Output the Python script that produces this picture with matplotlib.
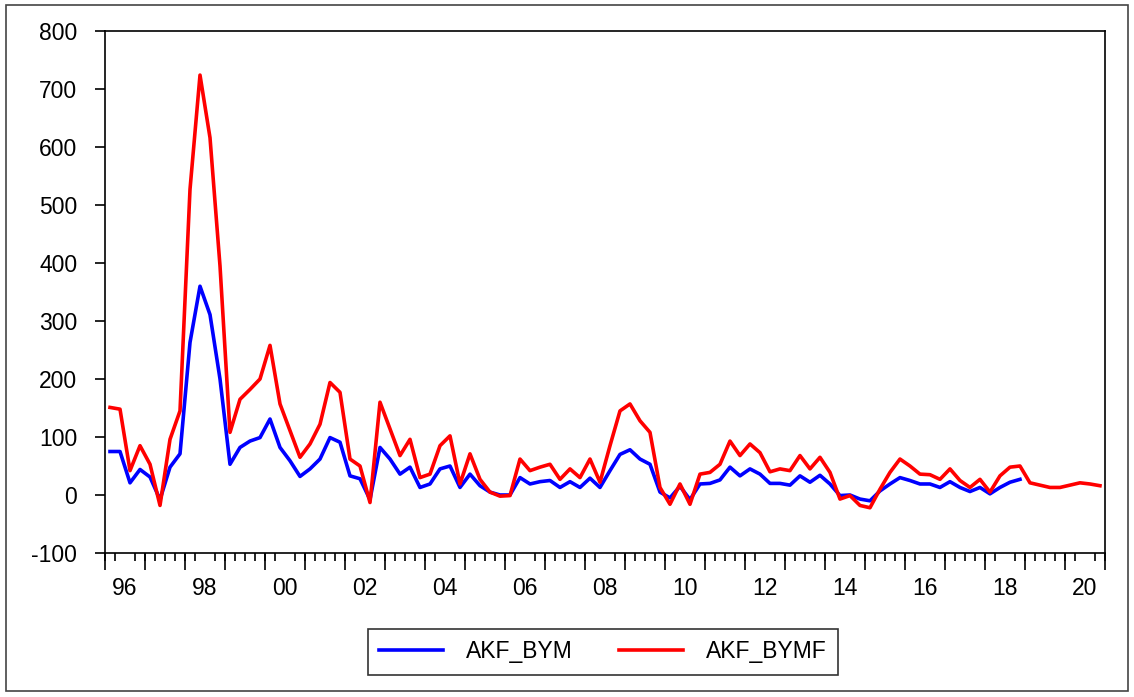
import numpy as np
import matplotlib
matplotlib.use('Agg')
import matplotlib.pyplot as plt
from matplotlib.patches import Rectangle

plt.rcParams['font.family'] = ['Liberation Sans', 'DejaVu Sans']
plt.rcParams['axes.unicode_minus'] = False

# quarterly data, 1996Q1 - 2020Q4
start_year = 1996
akf_bymf = [151, 148, 42, 85, 53, -18, 96, 145, 527, 724,
            616, 395, 108, 165, 182, 200, 258, 157, 111, 65,
            88, 122, 194, 177, 62, 50, -13, 160, 114, 68,
            96, 30, 36, 85, 102, 19, 71, 27, 5, -2,
            -1, 62, 42, 48, 53, 27, 45, 30, 62, 22,
            85, 145, 157, 128, 108, 13, -16, 19, -16, 36,
            39, 53, 93, 68, 88, 73, 40, 45, 42, 68,
            45, 65, 39, -7, -1, -18, -22, 10, 39, 62,
            50, 36, 35, 27, 45, 25, 13, 27, 5, 33,
            48, 50, 21, 17, 13, 13, 17, 21, 19, 16]
akf_bym = [75, 75, 21, 44, 31, -8, 48, 71, 263, 360,
           311, 200, 53, 82, 93, 99, 131, 82, 59, 32,
           45, 62, 99, 91, 33, 28, -8, 82, 62, 36,
           48, 13, 19, 45, 50, 13, 36, 16, 5, 0,
           0, 30, 19, 23, 25, 13, 23, 13, 29, 13,
           42, 70, 78, 62, 53, 5, -5, 15, -8, 19,
           20, 26, 48, 33, 45, 36, 20, 20, 17, 33,
           22, 34, 19, -1, 0, -7, -10, 7, 19, 30,
           25, 19, 19, 13, 23, 13, 6, 13, 2, 13,
           22, 27]
year_labels = ['96', '98', '00', '02', '04', '06', '08', '10', '12',
               '14', '16', '18', '20']

t_red = start_year + (np.arange(len(akf_bymf)) + 0.5) / 4
t_blue = start_year + (np.arange(len(akf_bym)) + 0.5) / 4

fig = plt.figure(figsize=(11.34, 6.97), dpi=100)
ax = fig.add_axes([0.0926, 0.2066, 0.8818, 0.7489])

ax.plot(t_blue, akf_bym, color='#0000ff', lw=2.6, label='AKF_BYM')
ax.plot(t_red, akf_bymf, color='#ff0000', lw=2.6, label='AKF_BYMF')

fs = 16.5
ax.set_xlim(1996, 2021)
ax.set_ylim(-100, 800)
ax.set_yticks(np.arange(-100, 801, 100))
ax.tick_params(axis='y', direction='out', length=7, width=1.2, labelsize=fs, pad=13)

# labels centred on years, every second year
ax.set_xticks(np.arange(1996, 2021, 2) + 0.5)
ax.set_xticklabels(year_labels)
ax.tick_params(axis='x', which='major', length=0, labelsize=fs, pad=17)
ax.set_xticks(np.arange(1996, 2021.01, 0.25), minor=True)
ax.tick_params(axis='x', which='minor', direction='out', length=6, width=1.2)

sec = ax.secondary_xaxis('bottom')
sec.set_xticks(np.arange(1996, 2022, 1))
sec.set_xticklabels([])
sec.tick_params(direction='out', length=12, width=1.2)
sec.spines['bottom'].set_visible(False)

for s in ax.spines.values():
    s.set_linewidth(1.2)

leg = fig.legend(loc='upper center', bbox_to_anchor=(0.5317, 0.0976), ncol=2,
                 fontsize=fs, frameon=True, fancybox=False, handlelength=2.8,
                 columnspacing=2.0, borderpad=0.5, handletextpad=1.0,
                 borderaxespad=0)
leg.get_frame().set_edgecolor('black')
leg.get_frame().set_linewidth(1.2)

fig.patches.append(Rectangle((0.005, 0.008), 0.99, 0.985, transform=fig.transFigure,
                             fill=False, edgecolor='#444444', linewidth=1.2))

fig.savefig('out.png', dpi=100)
